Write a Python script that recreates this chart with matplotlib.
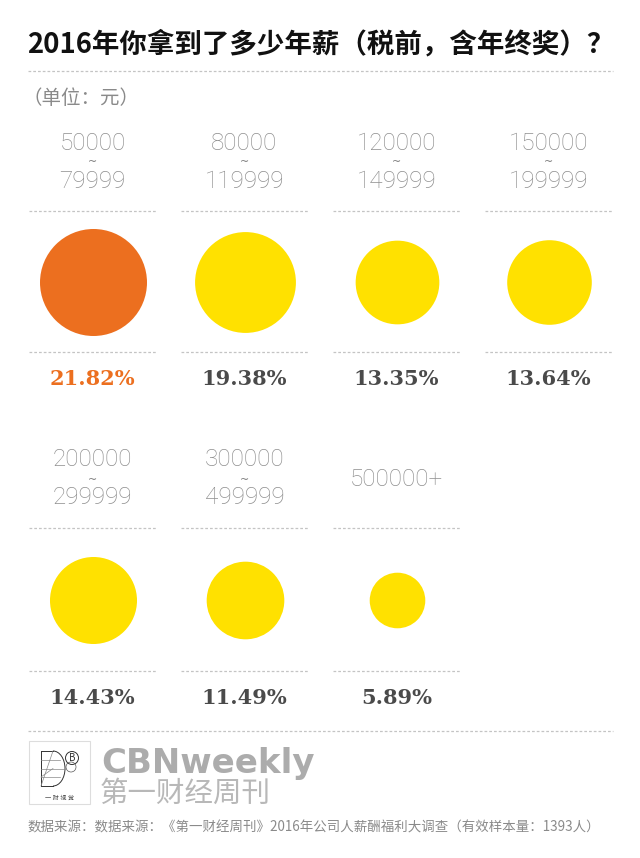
import matplotlib
matplotlib.use("Agg")
import matplotlib.pyplot as plt
from matplotlib.patches import Rectangle, Circle, Arc
import numpy as np

plt.rcParams['font.family'] = ['Noto Sans CJK SC', 'DejaVu Sans']

# ---- data ----
title = "2016年你拿到了多少年薪（税前，含年终奖）？"
unit_label = "（单位：元）"
range_low = ["50000", "80000", "120000", "150000", "200000", "300000", "500000+"]
range_high = ["79999", "119999", "149999", "199999", "299999", "499999", ""]
shares = [21.82, 19.38, 13.35, 13.64, 14.43, 11.49, 5.89]
highlight = [True, False, False, False, False, False, False]
source = "数据来源：数据来源：《第一财经周刊》2016年公司人薪酬福利大调查（有效样本量：1393人）"
brand_en = "CBNweekly"
brand_cn = "第一财经周刊"
logo_cn = "一 财 视 觉"

ORANGE = "#EC6F1F"
YELLOW = "#FFE100"
DARK = "#4a4a4a"
GRAY = "#8a8a8a"
DASH = "#c4c4c4"

W, H = 640, 858
fig = plt.figure(figsize=(W / 100, H / 100), dpi=100)
ax = fig.add_axes([0, 0, 1, 1])
ax.set_xlim(0, W)
ax.set_ylim(H, 0)
ax.axis("off")

def dashed(x0, x1, y):
    ax.plot([x0, x1], [y, y], color=DASH, lw=0.9, dashes=(2.2, 1.6), solid_capstyle="butt")

# title
ax.text(27, 45, title, fontsize=19.8, fontweight="bold", color="#111111", va="center", ha="left")
dashed(28, 613, 71)
ax.text(22, 98, unit_label, fontsize=14, color=GRAY, va="center", ha="left")

# layout
col_x0, col_dx = 92.5, 152
rows = [
    dict(l1=144, tl=162, l2=181, single=162, d1=211, cy=281.5, d2=352, pct=379),
    dict(l1=460, tl=480, l2=498, single=480, d1=528, cy=600, d2=671, pct=698),
]
ref_r = 53.5 / np.sqrt(21.82)            # px radius per sqrt(share)
scale_pts = (2 * ref_r * 0.72) ** 2      # scatter size per share unit

num_font = dict(family=["Roboto", "DejaVu Sans"], fontweight="light", fontsize=17.5, color="#8e8e8e")

for i, (lo, hi, v, hl) in enumerate(zip(range_low, range_high, shares, highlight)):
    r = rows[i // 4]
    cx = col_x0 + col_dx * (i % 4)
    if hi:
        ax.text(cx, r["l1"], lo, ha="center", va="center", **num_font)
        ax.text(cx, r["tl"], "~", ha="center", va="center", family="DejaVu Sans",
                fontsize=8, color="#777777")
        ax.text(cx, r["l2"], hi, ha="center", va="center", **num_font)
    else:
        ax.text(cx, r["single"], lo, ha="center", va="center", **num_font)
    dashed(cx - 64, cx + 64, r["d1"])
    ax.scatter([cx], [r["cy"]], s=scale_pts * v, color=ORANGE if hl else YELLOW,
               linewidths=0, zorder=3)
    dashed(cx - 64, cx + 64, r["d2"])
    ax.text(cx, r["pct"], f"{v:.2f}%", ha="center", va="center", family="DejaVu Serif",
            fontweight="bold", fontsize=15, color=ORANGE if hl else DARK)

# footer
dashed(28, 613, 731)
# logo box
ax.add_patch(Rectangle((29, 741), 61, 63, fill=False, ec="#dddddd", lw=0.8))
lk = dict(color="#333333", lw=0.7)
ax.plot([41, 41], [751, 786], **lk)
ax.plot([41, 53], [751, 751], **lk)
ax.plot([41, 53], [786, 786], **lk)
ax.add_patch(Arc((53, 768.5), 24, 35, theta1=-90, theta2=90, **{"ec": "#333333", "lw": 0.7}))
ax.plot([41, 65], [768.5, 768.5], color="#888888", lw=0.5)
ax.plot([41, 60], [760, 760], color="#888888", lw=0.5)
ax.plot([41, 60], [777, 777], color="#888888", lw=0.5)
ax.plot([41, 53], [786, 751], color="#888888", lw=0.5)
ax.plot([41, 53], [777, 768.5], color="#888888", lw=0.5)
ax.add_patch(Circle((72, 758), 6.5, fill=False, ec="#333333", lw=0.7))
ax.add_patch(Circle((71, 767), 5, fill=False, ec="#555555", lw=0.5))
ax.text(72.5, 758, "B", fontsize=7, ha="center", va="center", color="#333333")
ax.text(59.5, 798, logo_cn, fontsize=4.5, ha="center", va="center", color="#555555")

ax.text(101, 763, brand_en, family=["DejaVu Sans"], fontweight="bold",
        fontsize=24.5, color="#acacac", ha="left", va="center")
ax.text(100, 794, brand_cn, fontsize=20.5, color="#b8b8b8", ha="left", va="center")
ax.text(28, 828, source, fontsize=9.7, color=GRAY, ha="left", va="center")

fig.savefig("out.png", dpi=100, facecolor="white")
